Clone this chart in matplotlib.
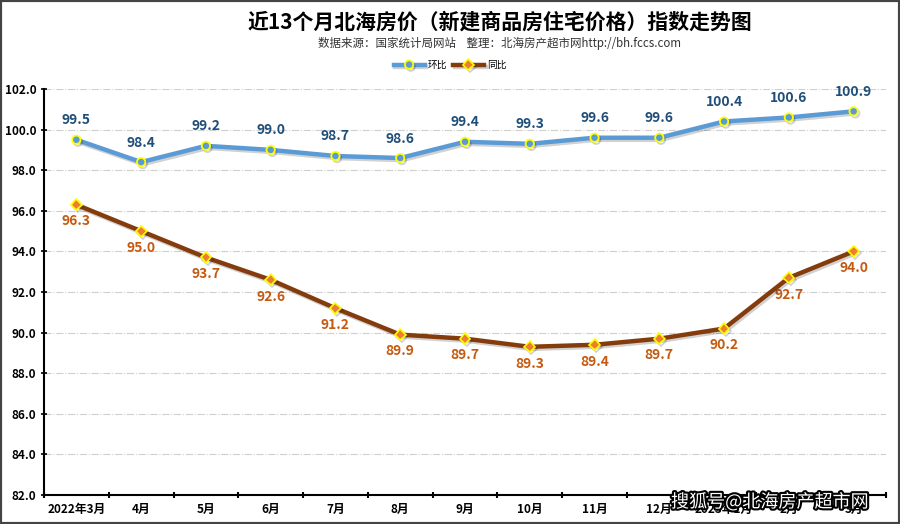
import matplotlib.pyplot as plt
import matplotlib.patheffects as pe
from matplotlib.patches import Rectangle

plt.rcParams['font.family'] = ['Noto Sans CJK SC', 'DejaVu Sans']

# 月份与指数
months = ['2022年3月', '4月', '5月', '6月', '7月', '8月', '9月', '10月', '11月', '12月',
          '2023年1月', '2月', '3月']
huanbi = [99.5, 98.4, 99.2, 99.0, 98.7, 98.6, 99.4, 99.3, 99.6, 99.6, 100.4, 100.6, 100.9]
tongbi = [96.3, 95.0, 93.7, 92.6, 91.2, 89.9, 89.7, 89.3, 89.4, 89.7, 90.2, 92.7, 94.0]
yticks = [82.0, 84.0, 86.0, 88.0, 90.0, 92.0, 94.0, 96.0, 98.0, 100.0, 102.0]

fig = plt.figure(figsize=(9, 5.24), dpi=100)
ax = fig.add_axes([44 / 900, 29 / 524, 842 / 900, 406 / 524])

x = list(range(len(months)))
shadow = [pe.SimpleLineShadow(offset=(1.2, -1.5), alpha=0.18), pe.Normal()]

ax.plot(x, huanbi, color='#5b9bd5', lw=3.2, marker='o', ms=6,
        mfc='#5b9bd5', mec='#ffff00', mew=1.3, label='环比', path_effects=shadow, zorder=4)
ax.plot(x, tongbi, color='#843c0c', lw=3.2, marker='D', ms=5.5,
        mfc='#ed7d31', mec='#ffff00', mew=1.2, label='同比', path_effects=shadow, zorder=4)

for i, v in enumerate(huanbi):
    ax.annotate(f'{v:.1f}', (i, v), xytext=(0, 9), textcoords='offset points',
                ha='center', va='bottom', fontsize=10, fontweight='bold', color='#1f4e79')
for i, v in enumerate(tongbi):
    ax.annotate(f'{v:.1f}', (i, v), xytext=(0, -7), textcoords='offset points',
                ha='center', va='top', fontsize=10, fontweight='bold', color='#c55a11')

ax.set_xlim(-0.5, len(months) - 0.5)
ax.set_ylim(82, 102)
ax.set_yticks(yticks)
ax.set_yticklabels([f'{t:.1f}' for t in yticks], fontsize=8.5, fontweight='bold')
ax.set_xticks([i - 0.5 for i in range(len(months) + 1)])
ax.set_xticklabels([])
ax.set_xticks(x, minor=True)
ax.set_xticklabels(months, minor=True, fontsize=8.5, fontweight='bold')
ax.tick_params(axis='x', which='minor', length=0, pad=6)
ax.tick_params(axis='x', which='major', length=4, width=1.5, direction='inout')
ax.tick_params(axis='y', length=4, width=1.2, direction='inout')
ax.grid(axis='y', color='#cfcfcf', ls='-.', lw=0.8)
for s in ['top', 'right']:
    ax.spines[s].set_visible(False)
ax.spines['left'].set_linewidth(1.5)
ax.spines['bottom'].set_linewidth(1.5)

fig.text(500 / 900, 1 - 22 / 524, '近13个月北海房价（新建商品房住宅价格）指数走势图',
         ha='center', va='center', fontsize=15, fontweight='bold')
fig.text(500 / 900, 1 - 43 / 524, '数据来源：国家统计局网站    整理：北海房产超市网http://bh.fccs.com',
         ha='center', va='center', fontsize=8.3, color='#333333')
fig.legend(loc='center', bbox_to_anchor=(0.5, 1 - 65 / 524), ncol=2, frameon=False,
           fontsize=7, handlelength=3.2, columnspacing=0.6, handletextpad=0.3)

fig.text(868 / 900, 1 - 502 / 524, '搜狐号@北海房产超市网', ha='right', va='center',
         fontsize=13, color='white',
         path_effects=[pe.withStroke(linewidth=3, foreground='black')])

fig.add_artist(Rectangle((0, 0), 1, 1, transform=fig.transFigure, fill=False,
                         ec='#444444', lw=3))

fig.savefig('out.png', dpi=100)
